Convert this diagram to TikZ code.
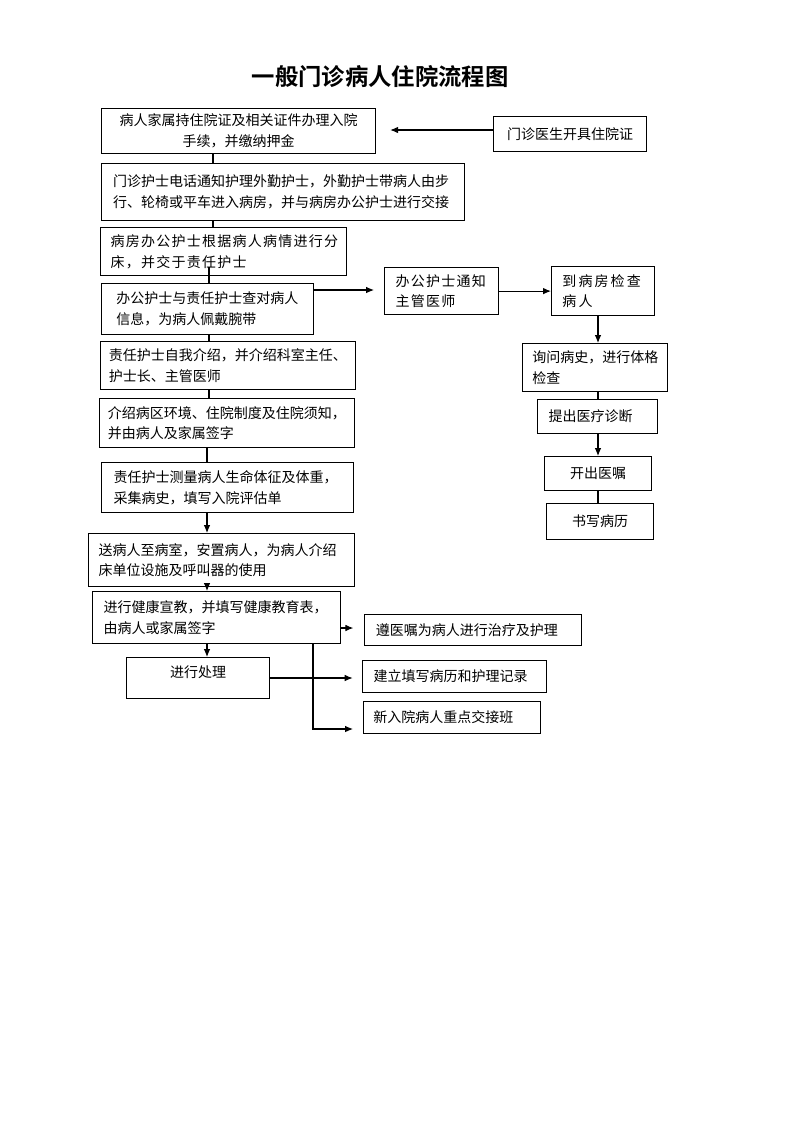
\documentclass[tikz,border=0pt]{standalone}
\usepackage{fontspec}
\usepackage{tikz}
\usetikzlibrary{arrows.meta}
\newfontfamily\cjk{Noto Sans CJK SC}[BoldFont={Noto Sans CJK SC Bold}]

\begin{document}
\begin{tikzpicture}[
    x=0.75pt, y=-0.75pt,
    every node/.style={font=\cjk\fontsize{10.5}{15.5}\selectfont},
    box/.style={draw, line width=0.9pt, anchor=north west, align=left, inner xsep=0pt, inner ysep=2pt},
    mid/.style={box, align=center},
    spaced/.style={font=\cjk\fontsize{10.5}{15.5}\selectfont\addfontfeature{LetterSpace=#1}},
    link/.style={line width=0.8pt},
    flow/.style={link, -{Latex[length=6pt,width=5pt]}}
  ]
  \useasboundingbox (0,0) rectangle (793,1122);

  % title
  \node[font=\cjk\fontsize{17.5}{20}\selectfont\bfseries] (title) at (380,77) {一般门诊病人住院流程图};

  % left column
  \node[mid, minimum width=205.5pt, minimum height=33.75pt, text width=200pt] (hand) at (101,108) {病人家属持住院证及相关证件办理入院\\手续，并缴纳押金};
  \node[box, minimum width=272.25pt, minimum height=42.75pt, text width=255pt] (escort) at (101,163) {门诊护士电话通知护理外勤护士，外勤护士带病人由步\\行、轮椅或平车进入病房，并与病房办公护士进行交接};
  \node[box, spaced=9, minimum width=184.5pt, minimum height=36pt, text width=169.5pt] (assign) at (100,227) {病房办公护士根据病人病情进行分\\床，并交于责任护士};
  \node[box, minimum width=159pt, minimum height=38.25pt, text width=137pt] (check) at (101,283) {办公护士与责任护士查对病人\\信息，为病人佩戴腕带};
  \node[box, minimum width=191.25pt, minimum height=36pt, text width=179pt] (intro) at (100,341) {责任护士自我介绍，并介绍科室主任、\\护士长、主管医师};
  \node[box, minimum width=191.25pt, minimum height=36.75pt, text width=179pt] (rules) at (99,398) {介绍病区环境、住院制度及住院须知，\\并由病人及家属签字};
  \node[box, minimum width=189pt, minimum height=37.5pt, text width=171pt] (vitals) at (101,462) {责任护士测量病人生命体征及体重，\\采集病史，填写入院评估单};
  \node[box, minimum width=199.5pt, minimum height=39.75pt, text width=184.5pt] (ward) at (88,533) {送病人至病室，安置病人，为病人介绍\\床单位设施及呼叫器的使用};
  \node[box, minimum width=186pt, minimum height=39pt, text width=169.5pt] (educate) at (92,591) {进行健康宣教，并填写健康教育表，\\由病人或家属签字};
  \node[mid, minimum width=107.25pt, minimum height=30.75pt, text width=90pt, text depth=10pt] (handle) at (126,657) {进行处理};

  % right column
  \node[mid, minimum width=114.75pt, minimum height=26.25pt, text width=105pt] (permit) at (493,116) {门诊医生开具住院证};
  \node[box, spaced=9, minimum width=85.5pt, minimum height=35.25pt, text width=69pt] (notify) at (384,267) {办公护士通知\\主管医师};
  \node[box, spaced=15, minimum width=77.25pt, minimum height=36.75pt, text width=61pt] (visit) at (551,266) {到病房检查\\病人};
  \node[box, minimum width=108.75pt, minimum height=36pt, text width=94pt] (history) at (522,343) {询问病史，进行体格\\检查};
  \node[box, minimum width=90pt, minimum height=25.5pt, text width=73.5pt] (diag) at (537,399) {提出医疗诊断};
  \node[mid, minimum width=80.25pt, minimum height=25.5pt, text width=70pt] (order) at (544,456) {开出医嘱};
  \node[mid, minimum width=80.25pt, minimum height=27pt, text width=70pt] (record) at (546,503) {书写病历};
  \node[box, minimum width=162.75pt, minimum height=23.25pt, text width=146pt] (treat) at (364,614) {遵医嘱为病人进行治疗及护理};
  \node[box, minimum width=138pt, minimum height=24pt, text width=121.5pt] (chart) at (362,660) {建立填写病历和护理记录};
  \node[box, minimum width=132.75pt, minimum height=24pt, text width=118pt] (shift) at (363,701) {新入院病人重点交接班};

  % columns and rows of the connectors
  \coordinate (c1) at (213,0);
  \coordinate (c2) at (209,0);
  \coordinate (c3) at (207,0);
  \coordinate (c4) at (598,0);
  \coordinate (c5) at (313,0);
  \coordinate (r1) at (0,130);
  \coordinate (r2) at (0,290);
  \coordinate (r3) at (0,628);
  \coordinate (r4) at (0,678);
  \coordinate (r5) at (0,729);

  % connectors
  \draw[flow, shorten >=10.5pt] (permit.west |- r1) -- (hand.east |- r1);
  \draw[link] (hand.south -| c1) -- (escort.north -| c1);
  \draw[link] (escort.south -| c1) -- (assign.north -| c1);
  \draw[link] (check.north -| c2) -- ++(0,-16);
  \draw[flow, shorten >=7.5pt] (check.east |- r2) -- (notify.west |- r2);
  \draw[flow] (notify.east) -- (notify.east -| visit.west);
  \draw[flow] (visit.south -| c4) -- (history.north -| c4);
  \draw[link] (history.south -| c4) -- (diag.north -| c4);
  \draw[flow] (diag.south -| c4) -- (order.north -| c4);
  \draw[link] (order.south -| c4) -- (record.north -| c4);
  \draw[link] (check.south -| c2) -- (intro.north -| c2);
  \draw[link] (intro.south -| c2) -- (rules.north -| c2);
  \draw[link] (rules.south -| c3) -- (vitals.north -| c3);
  \draw[flow] (vitals.south -| c3) -- (ward.north -| c3);
  \draw[flow] (ward.south -| c3) -- (educate.north -| c3);
  \draw[flow] (educate.south -| c3) -- (handle.north -| c3);
  \draw[flow, shorten >=8pt] (educate.east |- r3) -- (treat.west |- r3);
  \draw[flow, shorten >=7pt] (handle.east |- r4) -- (chart.west |- r4);
  \draw[flow, shorten >=7.5pt] (educate.south -| c5) |- (shift.west |- r5);
\end{tikzpicture}
\end{document}
